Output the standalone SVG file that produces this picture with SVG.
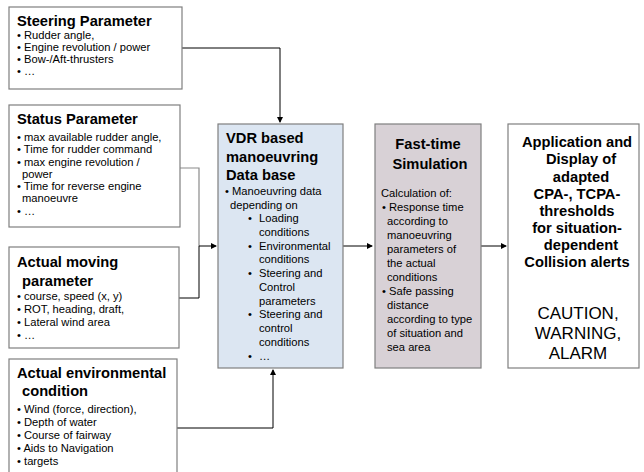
<svg xmlns="http://www.w3.org/2000/svg" width="644" height="472" viewBox="0 0 644 472">
<defs>
<marker id="ah" markerWidth="6" markerHeight="6" refX="5" refY="3" orient="auto" markerUnits="userSpaceOnUse">
<path d="M0,0 L6,3 L0,6 Z" fill="#000"/>
</marker>
<style>
text{font-family:"Liberation Sans",Arial,sans-serif;fill:#000}
.t{font-size:14.7px;font-weight:bold}
.b{font-size:11.2px}
.box{fill:#fff;stroke:#7f7f7f;stroke-width:1.2}
.vdr{fill:#dce6f2;stroke:#7f7f7f;stroke-width:1.2}
.sim{fill:#d8d1d6;stroke:#7f7f7f;stroke-width:1.2}
.c{fill:none;stroke:#000;stroke-width:1}
.g{fill:none;stroke:#8a8a8a;stroke-width:1.2}
.m{text-anchor:middle}
.big{font-size:17px}
</style>
</defs>
<rect width="644" height="472" fill="#fff"/>

<g id="connectors">
<path class="c" d="M182,48 H280 V122" marker-end="url(#ah)"/>
<path class="g" d="M180,168 H199 V246"/>
<path class="c" d="M179,298 H199 V246 H216" marker-end="url(#ah)"/>
<path class="c" d="M177,428 H273 V370" marker-end="url(#ah)"/>
<path class="c" d="M343,246 H372" marker-end="url(#ah)"/>
<path class="c" d="M481,246 H506" marker-end="url(#ah)"/>
</g>

<g id="steering">
<rect class="box" x="9" y="7" width="173" height="82"/>
<text class="t" x="17" y="25.5">Steering Parameter</text>
<text class="b" x="17" y="39">• Rudder angle,</text>
<text class="b" x="17" y="51">• Engine revolution / power</text>
<text class="b" x="17" y="63">• Bow-/Aft-thrusters</text>
<text class="b" x="17" y="75">• …</text>
</g>

<g id="status">
<rect class="box" x="9" y="105" width="171" height="122"/>
<text class="t" x="17" y="124">Status Parameter</text>
<text class="b" x="17" y="141">• max available rudder angle,</text>
<text class="b" x="17" y="153">• Time for rudder command</text>
<text class="b" x="17" y="165.5">• max engine revolution /</text>
<text class="b" x="22" y="177.5">power</text>
<text class="b" x="17" y="190">• Time for reverse engine</text>
<text class="b" x="22" y="202">manoeuvre</text>
<text class="b" x="17" y="215">• …</text>
</g>

<g id="moving">
<rect class="box" x="9" y="247" width="170" height="101"/>
<text class="t" x="17" y="267">Actual moving</text>
<text class="t" x="22" y="286">parameter</text>
<text class="b" x="17" y="300">• course, speed (x, y)</text>
<text class="b" x="17" y="313">• ROT, heading, draft,</text>
<text class="b" x="17" y="326">• Lateral wind area</text>
<text class="b" x="17" y="339">• …</text>
</g>

<g id="environment">
<rect class="box" x="9" y="359" width="168" height="120"/>
<text class="t" x="17" y="378">Actual environmental</text>
<text class="t" x="22" y="396">condition</text>
<text class="b" x="17" y="413">• Wind (force, direction),</text>
<text class="b" x="17" y="426">• Depth of water</text>
<text class="b" x="17" y="439">• Course of fairway</text>
<text class="b" x="17" y="452">• Aids to Navigation</text>
<text class="b" x="17" y="465">• targets</text>
</g>

<g id="vdr">
<rect class="vdr" x="218" y="124" width="125" height="244"/>
<text class="t" x="226" y="143">VDR based</text>
<text class="t" x="226" y="161.5">manoeuvring</text>
<text class="t" x="226" y="180">Data base</text>
<text class="b" x="225" y="195">• Manoeuvring data</text>
<text class="b" x="230" y="208.5">depending on</text>
<text class="b" x="248" y="222">•</text><text class="b" x="259" y="222">Loading</text>
<text class="b" x="259" y="235.5">conditions</text>
<text class="b" x="248" y="249.5">•</text><text class="b" x="259" y="249.5">Environmental</text>
<text class="b" x="259" y="263">conditions</text>
<text class="b" x="248" y="277">•</text><text class="b" x="259" y="277">Steering and</text>
<text class="b" x="259" y="290.5">Control</text>
<text class="b" x="259" y="304.5">parameters</text>
<text class="b" x="248" y="318">•</text><text class="b" x="259" y="318">Steering and</text>
<text class="b" x="259" y="332">control</text>
<text class="b" x="259" y="346">conditions</text>
<text class="b" x="248" y="360">•</text><text class="b" x="259" y="360">…</text>
</g>

<g id="simulation">
<rect class="sim" x="375" y="124" width="106" height="244"/>
<text class="t m" x="428" y="149">Fast-time</text>
<text class="t m" x="430" y="169">Simulation</text>
<text class="b" x="381" y="197">Calculation of:</text>
<text class="b" x="382" y="211">• Response time</text>
<text class="b" x="387" y="225">according to</text>
<text class="b" x="387" y="239">manoeuvring</text>
<text class="b" x="387" y="253">parameters of</text>
<text class="b" x="387" y="267">the actual</text>
<text class="b" x="387" y="281">conditions</text>
<text class="b" x="382" y="295">• Safe passing</text>
<text class="b" x="387" y="309">distance</text>
<text class="b" x="387" y="323">according to type</text>
<text class="b" x="387" y="337">of situation and</text>
<text class="b" x="387" y="351">sea area</text>
</g>

<g id="application">
<rect class="box" x="508" y="124" width="131" height="244"/>
<text class="t m" x="577" y="147">Application and</text>
<text class="t m" x="581" y="164">Display of</text>
<text class="t m" x="581" y="181.5">adapted</text>
<text class="t m" x="577" y="198.5">CPA-, TCPA-</text>
<text class="t m" x="577" y="215.5">thresholds</text>
<text class="t m" x="577" y="233">for situation-</text>
<text class="t m" x="581" y="250">dependent</text>
<text class="t m" x="577" y="267">Collision alerts</text>
<text class="big m" x="578" y="319">CAUTION,</text>
<text class="big m" x="578" y="339">WARNING,</text>
<text class="big m" x="578" y="359">ALARM</text>
</g>
</svg>
